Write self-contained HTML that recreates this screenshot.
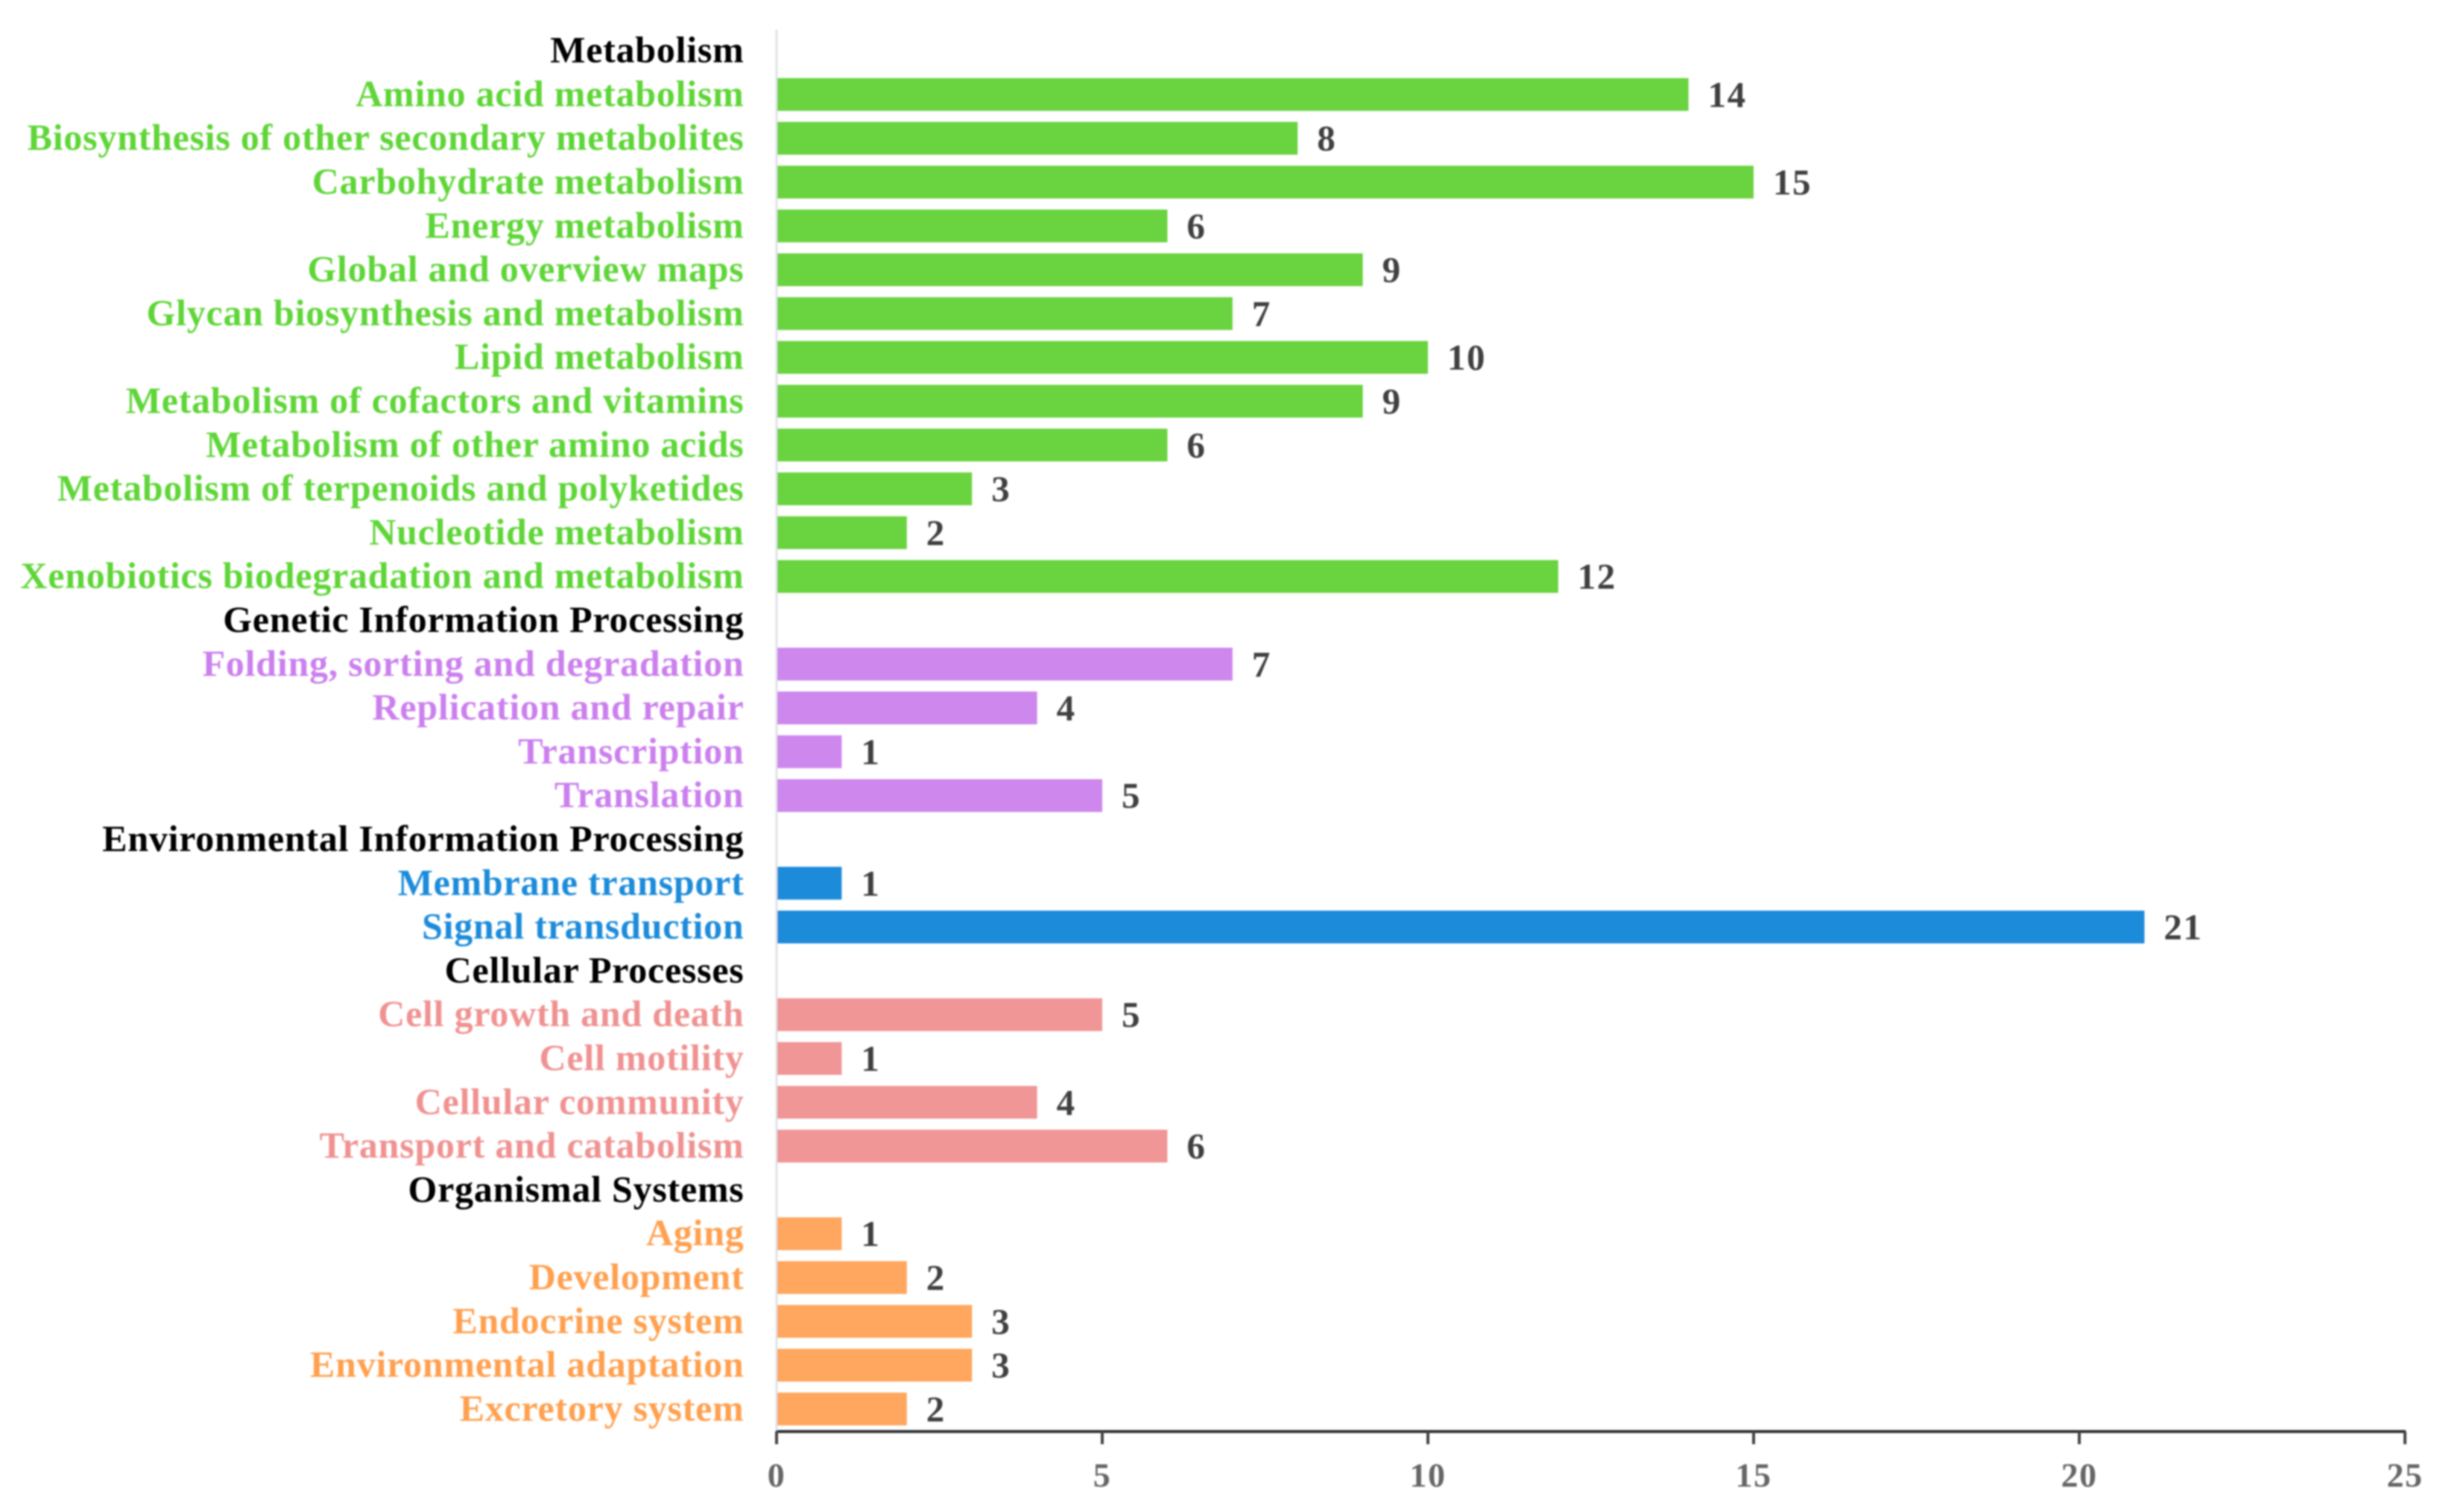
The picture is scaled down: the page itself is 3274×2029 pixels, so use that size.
<!DOCTYPE html>
<html lang="en">
<head>
<meta charset="utf-8">
<title>Pathway classification bar chart</title>
<style>
html,body{margin:0;padding:0;background:#fff;width:3274px;height:2029px;overflow:hidden}
svg{display:block;font-family:"Liberation Serif",serif;font-weight:bold}
</style>
</head>
<body>
<svg id="chart" xmlns="http://www.w3.org/2000/svg" width="3274" height="2029" viewBox="0 0 3274 2029">
  <defs><filter id="soft" x="-5%" y="-5%" width="110%" height="110%"><feGaussianBlur stdDeviation="1.1"/></filter></defs>
  <g id="plot" filter="url(#soft)"></g>
</svg>
<script>
const labels = ["Metabolism","Amino acid metabolism","Biosynthesis of other secondary metabolites","Carbohydrate metabolism","Energy metabolism","Global and overview maps","Glycan biosynthesis and metabolism","Lipid metabolism","Metabolism of cofactors and vitamins","Metabolism of other amino acids","Metabolism of terpenoids and polyketides","Nucleotide metabolism","Xenobiotics biodegradation and metabolism","Genetic Information Processing","Folding, sorting and degradation","Replication and repair","Transcription","Translation","Environmental Information Processing","Membrane transport","Signal transduction","Cellular Processes","Cell growth and death","Cell motility","Cellular community","Transport and catabolism","Organismal Systems","Aging","Development","Endocrine system","Environmental adaptation","Excretory system"];
const values = [null,14,8,15,6,9,7,10,9,6,3,2,12,null,7,4,1,5,null,1,21,null,5,1,4,6,null,1,2,3,3,2];
const groups = ["head","met","met","met","met","met","met","met","met","met","met","met","met","head","gen","gen","gen","gen","head","env","env","head","cel","cel","cel","cel","head","org","org","org","org","org"];
const ticks = [0,5,10,15,20,25];

const barColors = {met:"#6bd341",gen:"#ce87ec",env:"#1f8bda",cel:"#f09696",org:"#ffa65e"};
const textColors = {head:"#000000",met:"#5fd537",gen:"#cb80ee",env:"#1f8bda",cel:"#f09292",org:"#ffa050"};
const NS = "http://www.w3.org/2000/svg";
const plot = document.getElementById("plot");
const X0 = 1042, XMAX = 25, PXW = 2185, Y0 = 68, BAND = 58.8, BARH = 44, AXISY = 1921;
const xScale = v => X0 + v / XMAX * PXW;
const yScale = i => Y0 + i * BAND;
function slug(s){return s.toLowerCase().replace(/[^a-z0-9]+/g,"-");}
function make(tag, attrs, text){
  const el = document.createElementNS(NS, tag);
  for (const k in attrs) el.setAttribute(k, attrs[k]);
  if (text !== undefined) el.textContent = text;
  plot.appendChild(el);
  return el;
}
const FS = 50;

const yAxis = make("line",{x1:X0,x2:X0,y1:40,y2:AXISY,stroke:"#dfe3e6","stroke-width":3});



labels.forEach((name,i)=>{
  const cy = yScale(i);
  const lab = make("text",{x:998.5,y:cy+15.6,"text-anchor":"end","font-size":FS,"letter-spacing":0.75,fill:textColors[groups[i]]},name);
  
  
  if (values[i] === null) return;
  const bar = make("rect",{x:X0+1,y:cy-BARH/2,width:xScale(values[i])-X0-1,height:BARH,fill:barColors[groups[i]]});
  
  
  const val = make("text",{x:xScale(values[i])+26,y:cy+16.6,"font-size":49,"letter-spacing":1.5,fill:"#404040"},values[i]);
  
  
});

const xAxis = make("line",{x1:X0-1,x2:xScale(XMAX)+1,y1:AXISY,y2:AXISY,stroke:"#333","stroke-width":4});


ticks.forEach(t=>{
  const tk = make("line",{x1:xScale(t),x2:xScale(t),y1:AXISY,y2:AXISY+17,stroke:"#444","stroke-width":4});
  
  
  const tl = make("text",{x:xScale(t),y:1995,"text-anchor":"middle","font-size":46,"letter-spacing":1.5,fill:"#666666"},t);
  
  
});
</script>
</body>
</html>
